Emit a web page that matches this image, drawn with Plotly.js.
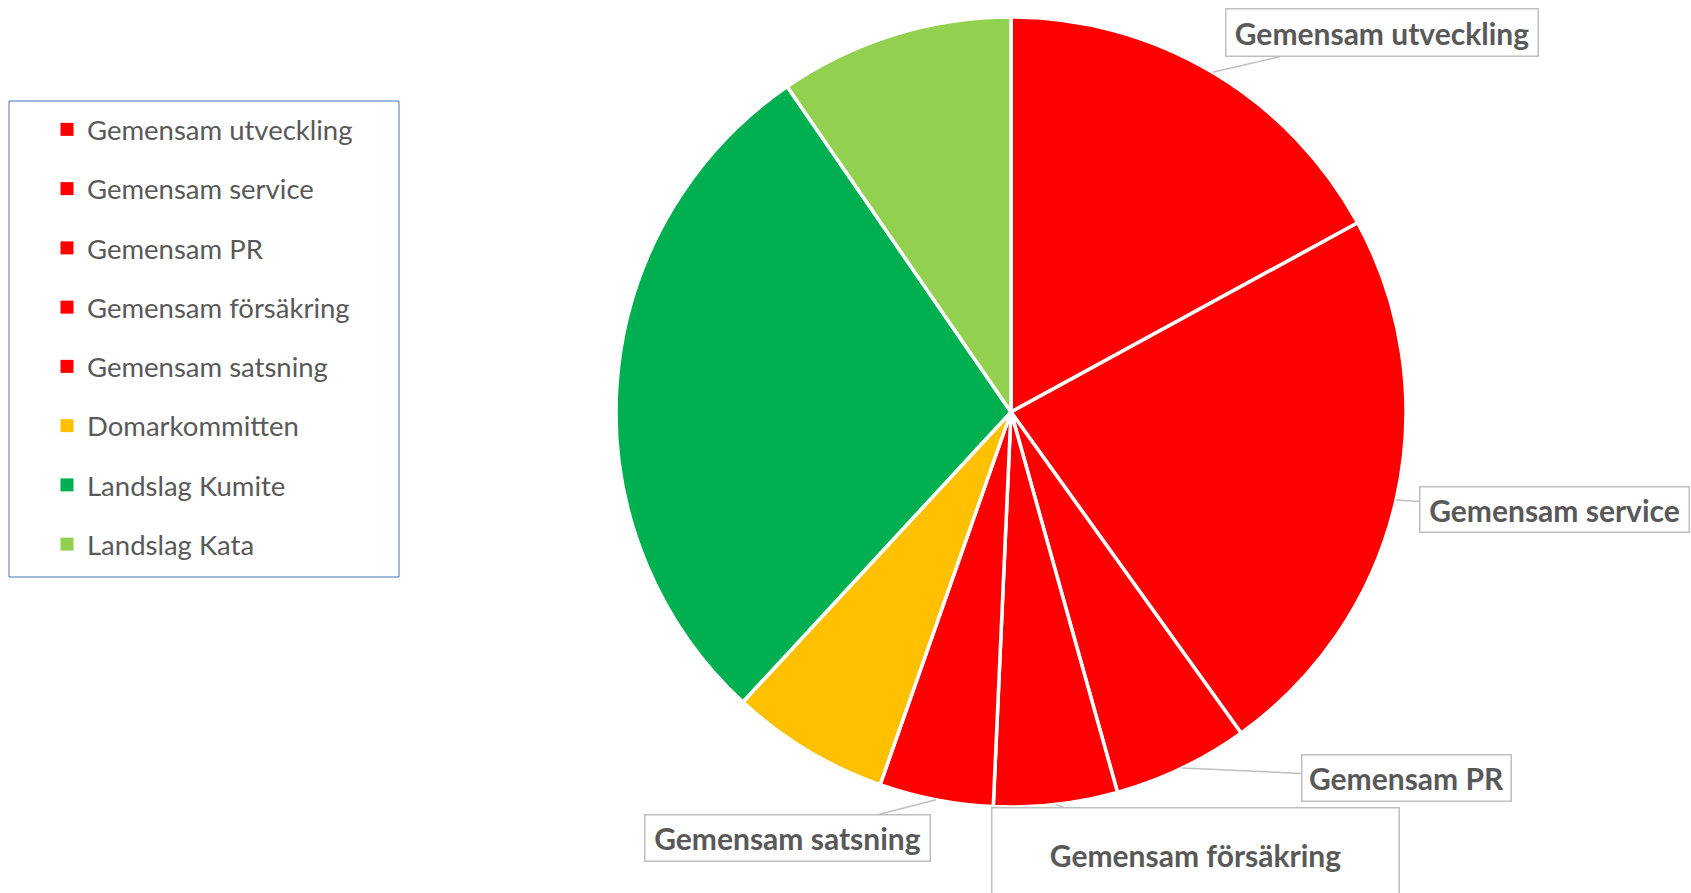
<!DOCTYPE html>
<html>
<head>
<meta charset="utf-8">
<script src="https://cdn.plot.ly/plotly-3.0.1.min.js"></script>
<style>html,body{margin:0;padding:0;background:#fff;}#chart{width:1691px;height:893px;}</style>
</head>
<body>
<div id="chart"></div>
<script>
// ---- data ----
const labels = ["Gemensam utveckling", "Gemensam service", "Gemensam PR", "Gemensam försäkring", "Gemensam satsning", "Domarkommitten", "Landslag Kumite", "Landslag Kata"];
const values = [17.05, 23.05, 5.55, 5.06, 4.66, 6.50, 28.53, 9.59];
const colors = ["#FF0000", "#FF0000", "#FF0000", "#FF0000", "#FF0000", "#FFC000", "#00B050", "#92D050"];
const calloutLabels = ["Gemensam utveckling", "Gemensam service", "Gemensam PR", "Gemensam försäkring", "Gemensam satsning"];

// ---- layout config ----
const W = 1691, H = 893;
const CX = 1011, CY = 412, R = 395;
const calloutBoxes = {
  "Gemensam utveckling": {cx: 1382, cy: 33, w: 313, h: 48},
  "Gemensam service":    {cx: 1554, cy: 510, w: 270, h: 46},
  "Gemensam PR":         {cx: 1406, cy: 778, w: 210, h: 47},
  "Gemensam försäkring": {cx: 1195, cy: 854, w: 408, h: 94},
  "Gemensam satsning":   {cx: 787,  cy: 838, w: 286, h: 47}
};

const total = values.reduce((a, b) => a + b, 0);
const cum = [];
let acc = 0;
values.forEach(v => { cum.push(acc + v / 2); acc += v; });

const annotations = calloutLabels.map(lab => {
  const i = labels.indexOf(lab);
  const th = cum[i] / total * 2 * Math.PI;
  const tx = CX + R * Math.sin(th);
  const ty = CY - R * Math.cos(th);
  const b = calloutBoxes[lab];
  return {
    x: tx / W, y: 1 - ty / H, xref: 'paper', yref: 'paper',
    text: '<b>' + lab + '</b>',
    showarrow: true, arrowhead: 0, arrowwidth: 1.5, arrowcolor: '#BFBFBF', standoff: 0,
    ax: b.cx - tx, ay: b.cy - ty,
    width: b.w - 2, height: b.h - 2, borderpad: 0,
    bordercolor: '#BFBFBF', borderwidth: 1.5, bgcolor: '#FFFFFF',
    font: {family: 'Lato, sans-serif', size: 30, color: '#595959'},
    align: 'center', valign: 'middle'
  };
});

const traces = [{
  type: 'pie',
  labels: labels,
  values: values,
  sort: false,
  direction: 'clockwise',
  rotation: 0,
  marker: {colors: colors, line: {color: '#FFFFFF', width: 3.5}},
  textinfo: 'none',
  hoverinfo: 'label+percent',
  showlegend: false,
  domain: {x: [(CX - R) / W, (CX + R) / W], y: [(H - CY - R) / H, (H - CY + R) / H]}
}];

labels.forEach((lab, i) => {
  traces.push({
    type: 'scatter', mode: 'markers', x: [null], y: [null],
    name: lab, legendgroup: 'g' + i, showlegend: true,
    marker: {symbol: 'square', size: 13, color: colors[i]},
    hoverinfo: 'skip'
  });
});

const layout = {
  width: W, height: H,
  margin: {l: 0, r: 0, t: 0, b: 0},
  paper_bgcolor: '#FFFFFF', plot_bgcolor: '#FFFFFF',
  xaxis: {visible: false, domain: [0, 0.01]},
  yaxis: {visible: false, domain: [0, 0.01]},
  showlegend: true,
  legend: {
    x: 47 / W, y: 1 - 105 / H, xanchor: 'left', yanchor: 'top',
    font: {family: 'Lato, sans-serif', size: 27.5, color: '#595959'},
    tracegroupgap: 20.5, bgcolor: 'rgba(0,0,0,0)', borderwidth: 0,
    itemclick: false, itemdoubleclick: false
  },
  shapes: [{
    type: 'rect', xref: 'paper', yref: 'paper',
    x0: 9 / W, x1: 399 / W, y0: 1 - 101 / H, y1: 1 - 577 / H,
    line: {color: '#4472C4', width: 1}, fillcolor: 'rgba(0,0,0,0)'
  }],
  annotations: annotations
};

Plotly.newPlot('chart', traces, layout, {displayModeBar: false, staticPlot: true});
</script>
</body>
</html>
